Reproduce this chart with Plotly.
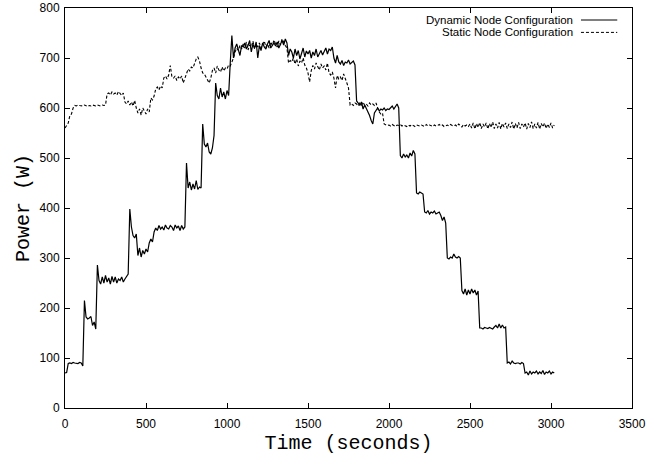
import plotly.graph_objects as go

# sample times (s), one reading every 10 s
time_s = list(range(0, 3030, 10))

# power, one row per 100 s
dynamic_power = [
    70, 71, 89, 90, 89, 91, 90, 90, 89, 91,
    90, 84, 215, 182, 178, 180, 183, 165, 172, 158,
    286, 255, 248, 262, 250, 265, 252, 260, 248, 263,
    252, 262, 250, 258, 255, 262, 252, 258, 262, 268,
    398, 362, 345, 340, 348, 305, 320, 302, 315, 308,
    318, 312, 330, 338, 332, 352, 360, 355, 365, 358,
    362, 356, 366, 360, 358, 365, 362, 355, 366, 360,
    364, 355, 365, 358, 362, 490, 440, 452, 436, 448,
    438, 455, 437, 442, 440, 568, 528, 522, 530, 512,
    508, 520, 545, 650, 625, 618, 640, 622, 632, 618,
    635, 625, 690, 745, 700, 720, 728, 715, 705, 725,
    722, 730, 718, 725, 735, 712, 728, 720, 732, 700,
    725, 715, 730, 722, 718, 728, 735, 720, 726, 730,
    724, 732, 720, 728, 735, 726, 738, 730, 705, 718,
    712, 700, 718, 705, 715, 698, 710, 720, 702, 714,
    708, 715, 700, 712, 705, 718, 702, 710, 715, 706,
    712, 720, 708, 718, 715, 722, 700, 690, 705, 692,
    688, 695, 685, 692, 690, 696, 688, 692, 694, 686,
    614, 610, 605, 612, 598, 606, 600, 592, 585, 575,
    568, 590, 596, 600, 594, 598, 596, 600, 595, 598,
    597, 600, 604, 598, 602, 608, 600, 505, 500, 508,
    502, 506, 500, 510, 504, 515, 508, 430, 428, 432,
    430, 428, 392, 390, 395, 388, 392, 390, 394, 388,
    390, 392, 385, 375, 382, 370, 300, 298, 302, 300,
    308, 302, 300, 303, 300, 235, 228, 238, 226, 236,
    228, 238, 230, 236, 226, 234, 160, 160, 158, 161,
    160, 159, 161, 160, 158, 162, 165, 160, 168, 160,
    166, 160, 162, 90, 92, 88, 94, 90, 89, 90,
    90, 88, 91, 89, 70, 72, 66, 74, 68, 72,
    70, 74, 68, 72, 69, 75, 67, 72, 70, 74,
    68, 72, 70,
]

static_power = [
    560, 565, 570, 585, 588, 600, 605, 604, 606, 605,
    605, 604, 606, 605, 603, 605, 604, 606, 605, 604,
    606, 605, 604, 606, 605, 606, 628, 630, 626, 632,
    628, 630, 626, 633, 629, 625, 630, 612, 608, 614,
    606, 612, 604, 615, 600, 590, 598, 586, 600, 594,
    588, 598, 592, 620, 616, 624, 638, 642, 636, 644,
    640, 660, 664, 658, 666, 685, 662, 660, 664, 655,
    662, 658, 664, 650, 660, 672, 678, 674, 682, 680,
    690, 698, 702, 694, 680, 670, 668, 662, 655, 650,
    660, 675, 680, 670, 684, 676, 672, 682, 674, 680,
    678, 686, 684, 692, 700, 712, 720, 715, 725, 718,
    728, 720, 732, 716, 726, 722, 734, 718, 728, 722,
    730, 720, 726, 734, 722, 728, 720, 732, 725, 736,
    728, 722, 734, 726, 738, 730, 725, 720, 690, 695,
    692, 700, 688, 698, 684, 694, 690, 700, 686, 680,
    670, 652, 675, 685, 678, 690, 682, 676, 688, 680,
    684, 676, 690, 670, 666, 672, 660, 640, 665, 658,
    662, 655, 668, 660, 650, 640, 606, 608, 605, 610,
    608, 604, 610, 606, 612, 605, 608, 604, 610, 606,
    608, 605, 610, 600, 592, 588, 590, 568, 566, 565,
    566, 564, 567, 565, 563, 566, 565, 567, 564, 566,
    565, 563, 566, 564, 567, 565, 563, 566, 565, 564,
    566, 565, 563, 567, 564, 566, 565, 563, 566, 564,
    565, 567, 564, 566, 563, 565, 566, 564, 567, 565,
    564, 566, 563, 568, 565, 562, 567, 564, 566, 563,
    568, 560, 570, 558, 569, 561, 571, 559, 568, 562,
    570, 558, 569, 561, 572, 559, 568, 560, 571, 558,
    569, 562, 570, 559, 568, 561, 572, 558, 569, 560,
    571, 559, 568, 562, 570, 558, 569, 561, 572, 559,
    568, 560, 571, 558, 569, 562, 570, 559, 568, 561,
    570, 560, 566,
]

series_names = ["Dynamic Node Configuration", "Static Node Configuration"]

TICK_FONT = dict(family="Liberation Sans, Arial, sans-serif", size=12, color="black")
TITLE_FONT = dict(family="Liberation Mono, Courier New, monospace", size=20, color="black")

fig = go.Figure()
fig.add_trace(go.Scatter(x=time_s, y=dynamic_power, mode="lines", name=series_names[0],
                         line=dict(color="black", width=1.2)))
fig.add_trace(go.Scatter(x=time_s, y=static_power, mode="lines", name=series_names[1],
                         line=dict(color="black", width=1.1, dash="3px,2px")))

axis_style = dict(
    showline=True, linecolor="black", linewidth=1, mirror="allticks",
    ticks="inside", ticklen=5, tickwidth=1, tickcolor="black",
    showgrid=False, zeroline=False, tickfont=TICK_FONT, automargin=False,
)

fig.update_xaxes(range=[0, 3500], tick0=0, dtick=500, ticklabelstandoff=5,
                 title=dict(text="Time (seconds)", font=TITLE_FONT, standoff=4), **axis_style)
fig.update_yaxes(range=[0, 800], tick0=0, dtick=100, ticklabelstandoff=2,
                 title=dict(text="Power (W)", font=TITLE_FONT, standoff=4), **axis_style)

# gnuplot-style key: text right-aligned, line sample on the right
key_rows = [(0.970, "solid"), (0.939, "3px,2px")]
for name, (ky, dash) in zip(series_names, key_rows):
    fig.add_annotation(xref="paper", yref="paper", x=0.899, y=ky, text=name,
                       showarrow=False, xanchor="right", yanchor="middle",
                       font=dict(family=TICK_FONT["family"], size=11.5, color="black"))
    fig.add_shape(type="line", xref="paper", yref="paper", x0=0.910, x1=0.974, y0=ky, y1=ky,
                  line=dict(color="black", width=1, dash=dash))

fig.update_layout(
    width=661, height=455,
    margin=dict(l=65, r=29, t=8, b=47),
    plot_bgcolor="white", paper_bgcolor="white",
    showlegend=False,
    font=TICK_FONT,
)

# drop the browser's default body margin so the figure sits at the page corner
fig.write_html("out.html", config={"displayModeBar": False},
               post_script="document.body.style.margin = '0';")
